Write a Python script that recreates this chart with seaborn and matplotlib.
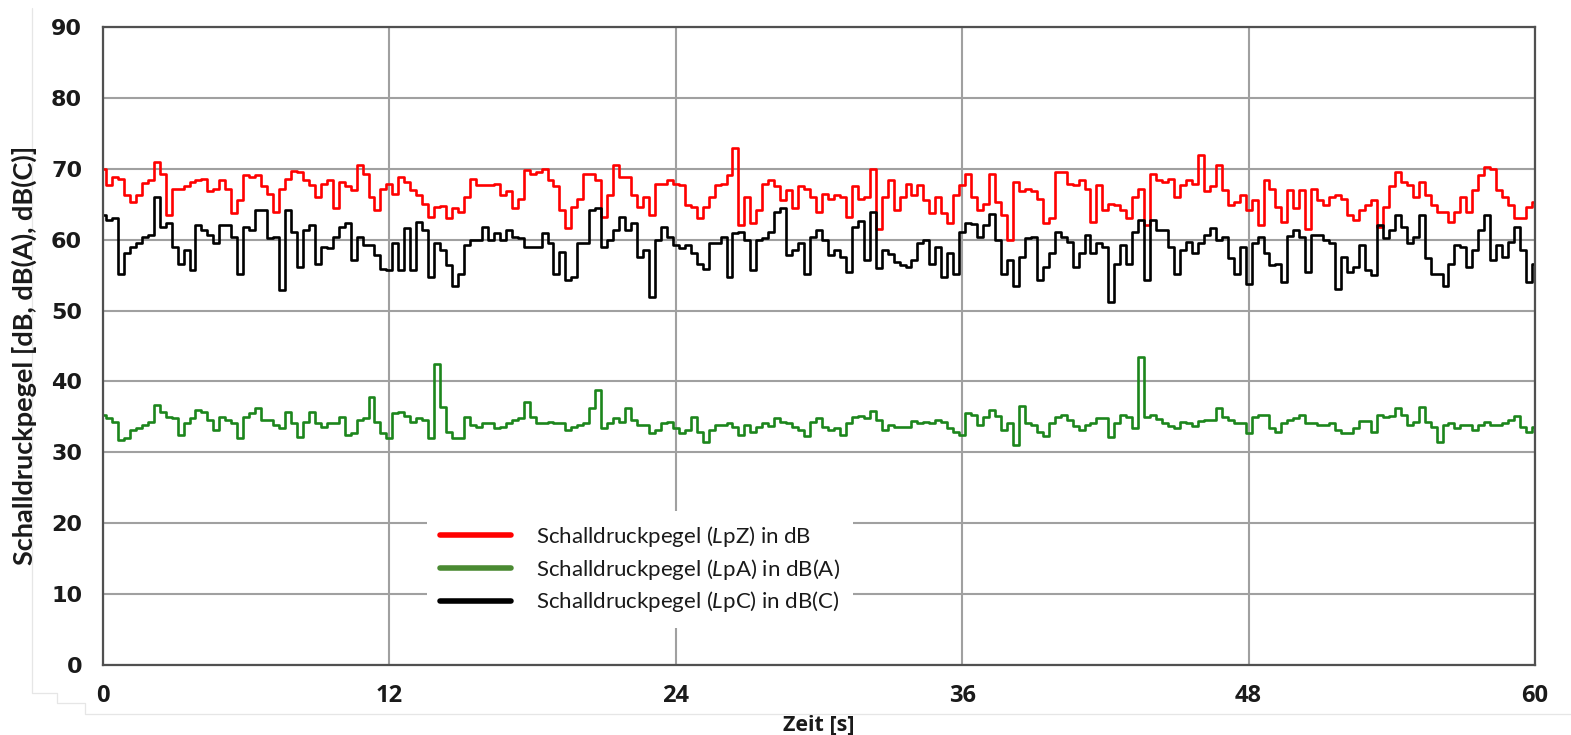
import numpy as np
import pandas as pd
import matplotlib
matplotlib.use("Agg")
import matplotlib.pyplot as plt
import seaborn as sns
from matplotlib.lines import Line2D

# ---- data (0.25 s steps) ----
dt = 0.25
lpz = [70.0, 67.7, 68.9, 68.6, 66.3, 65.3, 66.3, 68.0, 68.4, 71.0,
       69.3, 63.5, 67.2, 67.2, 67.5, 68.2, 68.4, 68.6, 66.8, 67.2,
       68.4, 67.2, 63.7, 65.6, 69.1, 68.9, 69.1, 67.5, 66.5, 63.9,
       67.2, 68.6, 69.7, 69.6, 68.4, 67.7, 66.0, 67.9, 68.4, 64.4,
       68.2, 67.5, 67.0, 70.5, 69.3, 66.05, 64.2, 67.2, 67.9, 66.5,
       68.9, 68.2, 67.0, 66.3, 65.1, 63.2, 64.6, 64.7, 63.0, 64.4,
       63.9, 66.05, 68.6, 67.7, 67.7, 67.7, 67.9, 66.3, 66.8, 64.4,
       65.8, 69.8, 69.3, 69.6, 70.0, 68.4, 67.5, 64.2, 61.6, 64.6,
       65.8, 69.3, 69.3, 68.4, 63.2, 66.3, 70.6, 68.9, 68.9, 66.3,
       64.6, 66.05, 63.5, 67.9, 67.9, 68.4, 67.9, 67.7, 64.9, 64.6,
       63.0, 64.6, 66.05, 67.7, 67.9, 69.1, 72.9, 62.0, 66.0, 62.3,
       64.2, 67.9, 68.4, 67.5, 65.6, 67.0, 64.4, 67.5, 67.2, 66.05,
       63.9, 66.5, 65.8, 66.3, 66.05, 63.2, 67.5, 65.8, 66.05, 70.0,
       61.5, 66.05, 68.4, 64.2, 66.05, 67.9, 66.3, 67.7, 65.6, 63.7,
       66.05, 63.7, 62.3, 66.3, 67.7, 69.3, 66.05, 64.2, 65.1, 69.3,
       65.3, 63.5, 59.9, 68.2, 66.8, 67.2, 66.8, 65.8, 62.3, 63.0,
       69.6, 69.6, 67.9, 67.7, 68.4, 67.2, 62.5, 67.7, 64.2, 65.1,
       64.9, 64.2, 63.0, 66.05, 67.2, 62.1, 69.3, 68.4, 68.2, 68.6,
       66.05, 67.7, 68.4, 67.9, 72.0, 66.8, 67.5, 70.5, 67.0, 64.9,
       65.3, 66.3, 64.2, 65.6, 62.0, 68.4, 67.2, 64.6, 62.5, 67.0,
       64.4, 67.0, 61.5, 67.2, 65.6, 64.9, 66.05, 66.3, 65.8, 63.5,
       62.8, 64.2, 64.9, 65.6, 61.8, 64.6, 67.5, 69.6, 68.2, 67.7,
       66.05, 68.2, 66.3, 64.9, 63.9, 63.9, 62.5, 63.9, 66.05, 63.9,
       67.0, 69.1, 70.3, 70.0, 67.0, 66.05, 64.9, 63.0, 63.0, 64.6,
       65.3]

lpc = [63.5, 62.8, 63.0, 55.2, 58.1, 59.0, 59.5, 60.4, 60.6, 66.05,
       61.8, 62.3, 59.0, 56.6, 58.5, 55.7, 62.1, 61.3, 60.6, 59.5,
       62.1, 62.1, 60.4, 55.2, 61.8, 61.3, 64.2, 64.2, 60.2, 60.4,
       52.9, 64.2, 61.1, 56.2, 61.3, 62.1, 56.6, 59.0, 58.8, 60.4,
       61.8, 62.3, 57.1, 60.4, 59.2, 59.2, 57.8, 55.9, 55.7, 59.5,
       55.7, 61.6, 55.7, 62.5, 61.3, 54.8, 59.5, 58.5, 56.4, 53.4,
       55.2, 59.2, 59.9, 59.9, 61.8, 59.9, 60.9, 59.9, 61.3, 60.4,
       60.2, 59.0, 59.0, 59.0, 60.9, 59.5, 55.2, 58.3, 54.3, 54.8,
       59.5, 59.5, 64.2, 64.4, 59.0, 59.9, 61.3, 63.2, 61.3, 62.3,
       57.6, 58.5, 51.9, 59.9, 61.8, 60.4, 59.2, 58.8, 59.2, 58.1,
       56.6, 55.9, 59.5, 59.5, 60.4, 54.8, 60.9, 61.1, 59.9, 55.7,
       59.9, 60.2, 61.1, 63.9, 64.4, 57.8, 58.5, 59.5, 55.2, 60.4,
       61.3, 59.9, 57.8, 58.5, 57.6, 55.5, 61.8, 62.7, 57.1, 63.9,
       56.0, 58.5, 58.0, 56.9, 56.4, 56.2, 57.1, 59.5, 59.9, 56.6,
       59.0, 54.8, 58.1, 55.2, 61.1, 62.3, 62.2, 60.4, 62.1, 63.6,
       59.9, 55.2, 57.1, 53.4, 57.6, 60.2, 60.4, 54.3, 56.2, 58.1,
       61.1, 60.4, 59.7, 56.2, 58.1, 60.6, 58.1, 59.5, 59.0, 51.2,
       56.6, 59.2, 56.6, 61.1, 62.8, 54.3, 62.8, 61.3, 61.3, 59.0,
       55.2, 58.5, 59.7, 58.1, 59.5, 60.6, 61.6, 59.9, 60.4, 57.4,
       55.2, 59.0, 53.8, 59.5, 60.4, 58.1, 56.4, 56.6, 54.0, 60.5,
       61.3, 60.4, 55.5, 60.6, 60.6, 59.9, 59.6, 53.0, 57.5, 55.5,
       56.2, 59.2, 55.7, 55.0, 62.0, 60.2, 61.3, 63.5, 61.8, 59.5,
       60.4, 63.5, 57.4, 55.2, 55.2, 53.4, 56.6, 59.2, 59.0, 56.2,
       58.5, 61.3, 63.5, 57.1, 59.2, 57.6, 59.7, 61.8, 58.5, 54.0,
       56.6]

lpa = [35.3, 34.9, 34.3, 31.7, 32.0, 33.1, 33.4, 33.8, 34.3, 36.7,
       35.7, 35.0, 34.8, 32.4, 34.1, 34.8, 36.0, 35.7, 34.6, 33.1,
       35.0, 34.6, 34.1, 32.0, 35.0, 35.6, 36.3, 34.6, 34.6, 33.8,
       33.4, 35.7, 34.1, 32.2, 34.3, 35.7, 34.1, 33.6, 34.1, 34.1,
       35.0, 32.4, 32.7, 34.6, 34.8, 37.8, 34.3, 32.7, 32.0, 35.5,
       35.7, 35.1, 34.3, 34.9, 34.6, 32.0, 42.5, 36.4, 32.9, 32.0,
       32.0, 35.0, 33.8, 33.6, 34.1, 34.1, 33.4, 33.6, 34.1, 34.6,
       34.8, 37.1, 35.0, 34.1, 34.1, 34.3, 34.1, 34.1, 33.1, 33.6,
       33.8, 34.1, 36.2, 38.8, 33.4, 34.1, 34.8, 34.3, 36.2, 34.6,
       33.8, 33.8, 32.7, 33.1, 34.1, 34.3, 33.4, 32.7, 33.1, 35.0,
       32.9, 31.5, 33.1, 33.8, 33.8, 34.2, 33.6, 32.4, 33.8, 32.9,
       33.6, 34.1, 33.7, 34.9, 34.3, 34.1, 33.6, 33.1, 32.3, 34.3,
       34.8, 33.6, 33.1, 33.4, 32.4, 34.1, 35.0, 35.1, 34.8, 35.9,
       34.6, 33.1, 33.8, 33.6, 33.6, 33.6, 34.4, 34.1, 34.3, 34.1,
       34.6, 34.3, 33.4, 32.9, 32.4, 35.5, 35.3, 33.8, 35.0, 36.0,
       35.1, 33.1, 34.1, 31.0, 36.6, 34.1, 33.8, 32.9, 32.3, 34.1,
       35.0, 35.3, 34.6, 33.7, 33.2, 33.9, 34.2, 34.9, 34.9, 32.2,
       34.1, 35.2, 35.0, 33.5, 43.5, 35.0, 35.3, 34.7, 34.2, 33.7,
       33.4, 34.3, 34.1, 33.7, 34.4, 34.6, 34.6, 36.3, 35.0, 34.6,
       34.1, 34.1, 32.7, 35.0, 35.3, 35.3, 33.4, 32.9, 34.1, 34.6,
       34.8, 35.3, 34.1, 34.1, 33.8, 33.8, 34.1, 33.2, 32.7, 32.7,
       33.4, 34.4, 34.4, 32.9, 35.3, 35.0, 35.1, 36.3, 35.3, 33.8,
       34.3, 36.4, 34.3, 33.6, 31.5, 33.9, 34.1, 33.4, 33.8, 33.9,
       33.1, 33.9, 34.3, 33.8, 33.9, 34.1, 34.6, 35.1, 33.6, 32.8,
       33.6]

labels = ["Schalldruckpegel ($\\mathit{L}$pZ) in dB",
          "Schalldruckpegel ($\\mathit{L}$pA) in dB(A)",
          "Schalldruckpegel ($\\mathit{L}$pC) in dB(C)"]
line_colors = ["#ff0000", "#1c861c", "#000000"]
legend_colors = ["#ff0000", "#4a8a32", "#000000"]
x_ticks = [0, 12, 24, 36, 48, 60]
y_ticks = list(range(0, 91, 10))

zeit = np.arange(len(lpz)) * dt
df = pd.concat([
    pd.DataFrame({"Zeit": zeit, "Pegel": lpz, "Serie": "Z"}),
    pd.DataFrame({"Zeit": zeit, "Pegel": lpc, "Serie": "C"}),
    pd.DataFrame({"Zeit": zeit, "Pegel": lpa, "Serie": "A"}),
], ignore_index=True)

sns.set_style("white")
plt.rcParams["mathtext.fontset"] = "custom"
plt.rcParams["mathtext.it"] = "Lato:italic"
plt.rcParams["mathtext.rm"] = "Lato"

fig = plt.figure(figsize=(15.71, 7.35), dpi=100)

# faint outer frame of the original picture
frame_x = [32, 32, 57, 57, 85, 85, 1571]
frame_y = [8, 693, 693, 703, 703, 714, 714]
fig.add_artist(Line2D([v / 1571 for v in frame_x], [1 - v / 735 for v in frame_y],
                      transform=fig.transFigure, color="#e6e6e6", linewidth=0.9,
                      zorder=-1))

ax = fig.add_axes([103/1571, 1-665/735, (1535-103)/1571, (665-27)/735])

palette = {"Z": line_colors[0], "A": line_colors[1], "C": line_colors[2]}
sns.lineplot(data=df, x="Zeit", y="Pegel", hue="Serie", palette=palette,
             hue_order=["Z", "C", "A"], linewidth=1.9, ax=ax, legend=False,
             estimator=None, drawstyle="steps-mid")

ax.set_xlim(0, 60)
ax.set_ylim(0, 90)
ax.set_xticks(x_ticks)
ax.set_yticks(y_ticks)
ax.grid(True, color="#a0a0a0", linewidth=1.5)
ax.set_axisbelow(True)
for s in ax.spines.values():
    s.set_color("#505050")
    s.set_linewidth(1.6)
ax.tick_params(axis="both", direction="out", length=2, width=1.2, color="#505050")
ax.tick_params(axis="y", pad=13)
ax.tick_params(axis="x", pad=12)
for lab in ax.get_yticklabels():
    lab.set_fontfamily("DejaVu Sans")
    lab.set_fontweight("bold")
    lab.set_fontsize(16)
    lab.set_color("#1a1a1a")
for lab in ax.get_xticklabels():
    lab.set_fontfamily("Open Sans")
    lab.set_fontweight("bold")
    lab.set_fontsize(17)
    lab.set_color("#1a1a1a")

ax.set_xlabel("Zeit [s]", fontfamily="Open Sans", fontweight="bold",
              fontsize=15.5, color="#1a1a1a", labelpad=4.5)
ax.set_ylabel("Schalldruckpegel [dB, dB(A), dB(C)]", fontfamily="Lato",
              fontweight="bold", fontsize=19.5, color="#1a1a1a")
ax.yaxis.set_label_coords(-0.046, 0.4855)

handles = [Line2D([0], [0], color=c, linewidth=4) for c in legend_colors]
leg = ax.legend(handles, labels, loc="upper left", bbox_to_anchor=(0.226, 0.242),
                frameon=True, fancybox=False, framealpha=1, edgecolor="none",
                facecolor="white", prop={"family": "Lato", "size": 16},
                handlelength=3.2, handletextpad=1.1, labelspacing=0.35,
                borderpad=0.6, borderaxespad=0)
for t in leg.get_texts():
    t.set_color("#1a1a1a")

fig.savefig("out.png", dpi=100, facecolor="white")
